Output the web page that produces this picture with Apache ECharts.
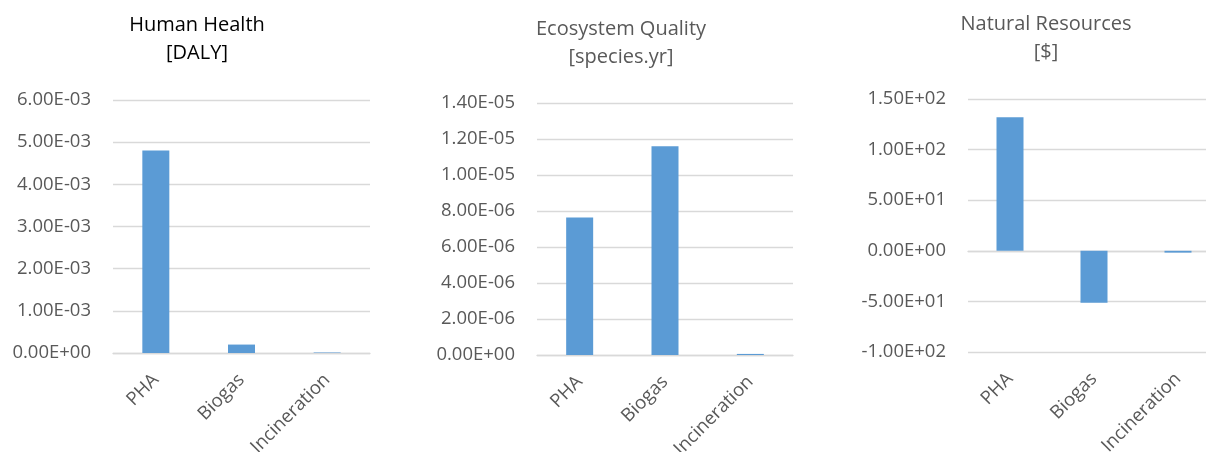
<!DOCTYPE html>
<html>
<head>
<meta charset="utf-8">
<script src="https://cdn.jsdelivr.net/npm/echarts@6/dist/echarts.min.js"></script>
<style>
  html, body { margin: 0; padding: 0; background: #fff; }
  #chart { width: 1206px; height: 452px; }
</style>
</head>
<body>
<div id="chart"></div>
<script>
// Scenario categories shared by the three impact panels
const categories = ['PHA', 'Biogas', 'Incineration'];

// Endpoint impact scores per scenario
const humanHealth = [4.8e-3, 2.0e-4, 1.2e-5];          // DALY
const ecosystemQuality = [7.64e-6, 1.16e-5, 6.0e-8];   // species.yr
const naturalResources = [132, -51.4, -1.8];           // $

// Panel titles
const titles = ['Human Health\n[DALY]', 'Ecosystem Quality\n[species.yr]', 'Natural Resources\n[$]'];

// Value axis ranges
const axisRanges = [
  { min: 0, max: 6e-3, interval: 1e-3 },
  { min: 0, max: 1.4e-5, interval: 2e-6 },
  { min: -100, max: 150, interval: 50 }
];

const FONT = '"Open Sans", "Liberation Sans", sans-serif';
const LABEL = '#595959';
const GRIDLINE = '#d9d9d9';
const BAR = '#5b9bd5';

// Scientific notation in the "6.00E-03" style
function sci(v) {
  if (Math.abs(v) < 1e-20) v = 0;
  const parts = v.toExponential(2).split('e');
  const exp = parts[1];
  return parts[0] + 'E' + exp[0] + exp.slice(1).padStart(2, '0');
}

// Plot areas; the third one runs past the right edge of the canvas
const grids = [
  { left: 113, top: 100, width: 257, height: 253 },
  { left: 537, top: 103, width: 256, height: 252 },
  { left: 968, top: 99, width: 252, height: 253 }
];

const titleLayout = [
  { x: 197, top: 11, color: '#000000' },
  { x: 621, top: 15, color: LABEL },
  { x: 1046, top: 10, color: LABEL }
];

const seriesData = [humanHealth, ecosystemQuality, naturalResources];

const option = {
  animation: false,
  backgroundColor: '#ffffff',
  title: titles.map((t, i) => ({
    text: t,
    left: titleLayout[i].x,
    top: titleLayout[i].top,
    textAlign: 'center',
    padding: 0,
    textStyle: {
      fontFamily: FONT,
      fontSize: 20,
      fontWeight: 'normal',
      color: titleLayout[i].color,
      lineHeight: 28
    }
  })),
  grid: grids.map(g => Object.assign({ containLabel: false, outerBoundsMode: 'none' }, g)),
  xAxis: [0, 1, 2].map(i => ({
    type: 'category',
    gridIndex: i,
    data: categories,
    axisTick: { show: false },
    axisLine: { show: true, onZero: true, lineStyle: { color: GRIDLINE, width: 1.3 } },
    axisLabel: {
      rotate: 45,
      margin: 24,
      interval: 0,
      color: LABEL,
      fontFamily: FONT,
      fontSize: 18.5
    }
  })),
  yAxis: axisRanges.map((r, i) => ({
    type: 'value',
    gridIndex: i,
    min: r.min,
    max: r.max,
    interval: r.interval,
    axisLine: { show: false },
    axisTick: { show: false },
    splitLine: { show: true, lineStyle: { color: GRIDLINE, width: 1.3 } },
    axisLabel: {
      margin: 22,
      color: LABEL,
      fontFamily: FONT,
      fontSize: 18.5,
      formatter: sci
    }
  })),
  series: seriesData.map((d, i) => ({
    type: 'bar',
    xAxisIndex: i,
    yAxisIndex: i,
    data: d,
    barWidth: 27,
    itemStyle: { color: BAR }
  }))
};

const chart = echarts.init(document.getElementById('chart'), null, { renderer: 'canvas' });
chart.setOption(option);
</script>
</body>
</html>
